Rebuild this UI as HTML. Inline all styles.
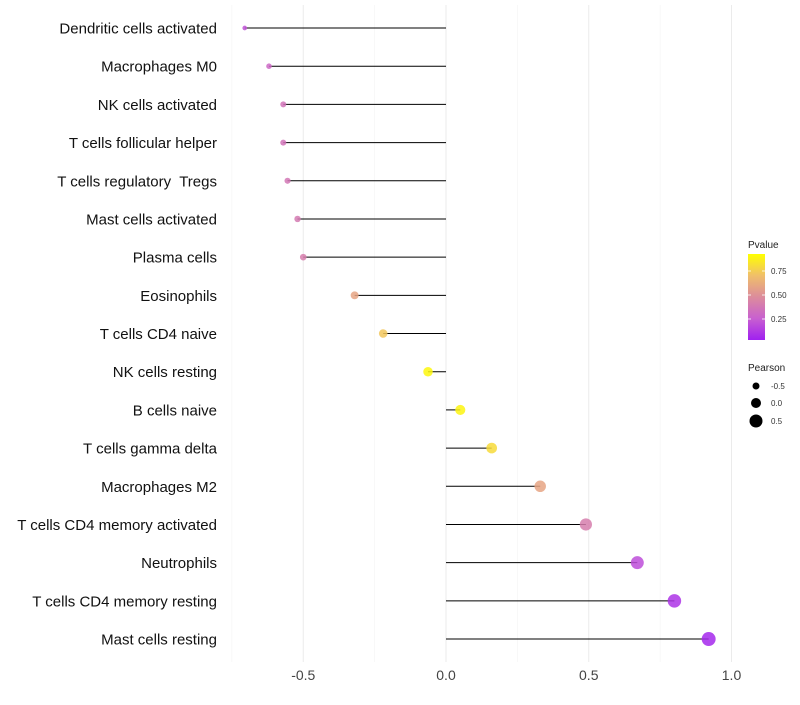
<!DOCTYPE html>
<html><head><meta charset="utf-8"><style>
body{margin:0;background:#fff;font-family:"Liberation Sans",sans-serif;}
</style></head><body>
<svg id="chart" width="800" height="700" xmlns="http://www.w3.org/2000/svg" font-family="Liberation Sans, sans-serif">
<defs><linearGradient id="pg" x1="0" y1="1" x2="0" y2="0">
<stop offset="0" stop-color="#a020f0"/><stop offset="0.25" stop-color="#c860d0"/><stop offset="0.5" stop-color="#dc8c9c"/><stop offset="0.75" stop-color="#f0bf6a"/><stop offset="1" stop-color="#ffff00"/></linearGradient></defs>
<g id="grid"></g><g id="marks"></g><g id="ylab"></g><g id="xlab"></g>
<g>
<text x="748" y="248" font-size="10" fill="#222">Pvalue</text>
<rect x="748" y="254" width="17" height="86" fill="url(#pg)"/>
<g stroke="#fff" stroke-width="1" opacity="0.8"><line x1="748" y1="271" x2="751" y2="271"/><line x1="762" y1="271" x2="765" y2="271"/><line x1="748" y1="295" x2="751" y2="295"/><line x1="762" y1="295" x2="765" y2="295"/><line x1="748" y1="319" x2="751" y2="319"/><line x1="762" y1="319" x2="765" y2="319"/></g>
<text x="771" y="274" font-size="8" fill="#333">0.75</text>
<text x="771" y="298" font-size="8" fill="#333">0.50</text>
<text x="771" y="322" font-size="8" fill="#333">0.25</text>
</g>
<g>
<text x="748" y="371" font-size="10" fill="#222">Pearson</text>
<circle cx="756" cy="386" r="3.5" fill="#000"/><text x="771" y="389" font-size="8" fill="#333">-0.5</text>
<circle cx="756" cy="403" r="5" fill="#000"/><text x="771" y="406" font-size="8" fill="#333">0.0</text>
<circle cx="756" cy="421" r="6.5" fill="#000"/><text x="771" y="424" font-size="8" fill="#333">0.5</text>
</g>
</svg>
<script>
const categories=["Dendritic cells activated","Macrophages M0","NK cells activated","T cells follicular helper","T cells regulatory  Tregs","Mast cells activated","Plasma cells","Eosinophils","T cells CD4 naive","NK cells resting","B cells naive","T cells gamma delta","Macrophages M2","T cells CD4 memory activated","Neutrophils","T cells CD4 memory resting","Mast cells resting"];
const pearson=[-0.705,-0.62,-0.57,-0.57,-0.555,-0.52,-0.50,-0.32,-0.22,-0.063,0.05,0.16,0.33,0.49,0.67,0.80,0.92];
const pvalue=[0.2,0.3,0.36,0.36,0.38,0.4,0.42,0.62,0.78,0.97,0.96,0.86,0.62,0.42,0.18,0.08,0.03];
const xTicks=[-0.5,0,0.5,1.0];
const xTickLabels=["-0.5","0.0","0.5","1.0"];
const NS="http://www.w3.org/2000/svg";
const X=v=>446+v*285.5, Y=i=>28+i*38.19, R=v=>Math.sqrt(Math.max(2.25,24.3+26.8*v));
function col(p){const s=[[0,[160,32,240]],[0.25,[200,96,208]],[0.5,[220,140,156]],[0.75,[240,191,106]],[1,[255,255,0]]];
for(let k=0;k<4;k++){if(p<=s[k+1][0]){const t=(p-s[k][0])/(s[k+1][0]-s[k][0]);return "rgb("+s[k][1].map((c,j)=>Math.round(c+(s[k+1][1][j]-c)*t)).join(",")+")";}}return "rgb(255,255,0)";}
function mk(t,a,p){const e=document.createElementNS(NS,t);for(const k in a)e.setAttribute(k,a[k]);p.appendChild(e);return e;}
const grid=document.getElementById("grid"),marks=document.getElementById("marks"),yl=document.getElementById("ylab"),xl=document.getElementById("xlab");
[-0.75,-0.25,0.25,0.75,1.25].forEach(v=>{const x=X(v);if(x<762)mk("line",{x1:x,x2:x,y1:5,y2:662,stroke:"#f3f3f3","stroke-width":0.6},grid);});
xTicks.forEach((v,i)=>{const l=mk("line",{x1:X(v),x2:X(v),y1:5,y2:662,stroke:"#ebebeb","stroke-width":1},grid);


const t=mk("text",{x:X(v),y:680,"font-size":14,fill:"#444","text-anchor":"middle"},xl);t.textContent=xTickLabels[i];

});
categories.forEach((c,i)=>{const y=Y(i);
const t=mk("text",{x:217,y:y+5.5,"font-size":15,fill:"#111","text-anchor":"end","xml:space":"preserve"},yl);t.style.whiteSpace="pre";t.textContent=c;


const s=mk("line",{x1:X(0),x2:X(pearson[i]),y1:y,y2:y,stroke:"#000","stroke-width":1},marks);


const p=mk("circle",{cx:X(pearson[i]),cy:y,r:R(pearson[i]),fill:col(pvalue[i]),"fill-opacity":0.85},marks);

});
</script>
</body></html>
